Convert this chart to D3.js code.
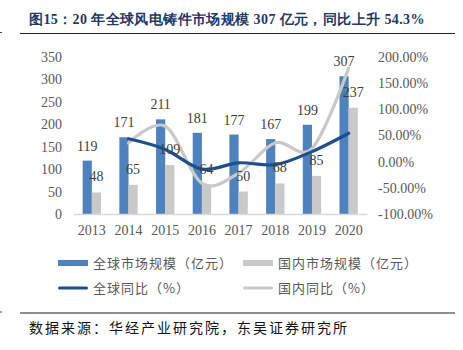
<!DOCTYPE html>
<html>
<head>
<meta charset="utf-8">
<script src="https://cdn.jsdelivr.net/npm/d3@7"></script>
<style>
  body { margin: 0; background: #fff; }
  svg { display: block; }
</style>
</head>
<body>
<svg id="chart"></svg>
<script>
// values
const years = ['2013', '2014', '2015', '2016', '2017', '2018', '2019', '2020'];
const globalSize = [119, 171, 211, 181, 177, 167, 199, 307];
const domesticSize = [48, 65, 109, 64, 50, 68, 85, 237];
const globalYoy = [null, 0.437, 0.234, -0.142, -0.022, -0.056, 0.192, 0.543];
const domesticYoy = [null, 0.354, 0.677, -0.413, -0.219, 0.36, 0.25, 1.788];
const leftTicks = [0, 50, 100, 150, 200, 250, 300, 350];
const rightTicks = [-1, -0.5, 0, 0.5, 1, 1.5, 2];

const W = 463, H = 350;
const serif = '"Liberation Serif", "Times New Roman", serif';
const cjk = '"Noto Sans CJK SC", sans-serif';

const svg = d3.select('#chart').attr('width', W).attr('height', H);

// title + rules
svg.append('text')
    .attr('x', 29).attr('y', 24)
    .attr('font-family', serif).attr('font-size', '14px').attr('font-weight', 'bold')
    .attr('letter-spacing', '0.4px')
    .attr('fill', '#1F3864')
    .text('图15：20 年全球风电铸件市场规模 307 亿元，同比上升 54.3%');
[33.5, 313].forEach(y => {
    svg.append('line').attr('x1', 20).attr('x2', 455).attr('y1', y).attr('y2', y)
        .attr('stroke', '#222').attr('stroke-width', 1.2);
    svg.append('line').attr('x1', 0).attr('x2', 2).attr('y1', y - 1).attr('y2', y - 1)
        .attr('stroke', '#444').attr('stroke-width', 1);
});
svg.append('text')
    .attr('x', 29).attr('y', 333)
    .attr('font-family', cjk).attr('font-size', '14px').attr('letter-spacing', '2px')
    .attr('fill', '#111')
    .text('数据来源：华经产业研究院，东吴证券研究所');

// scales
const x = d3.scaleBand().domain(years).range([73.5, 367])
    .paddingInner(0.5).paddingOuter(0.25);
const yL = d3.scaleLinear().domain([0, 350]).range([214, 57]);
const yR = d3.scaleLinear().domain([-1, 2]).range([214, 57]);
const bw = x.bandwidth() / 2;

const chart = svg.append('g');

// axes
const styleAxis = g => {
    g.selectAll('text').attr('font-family', serif).attr('font-size', '14px').attr('fill', '#595959');
};
chart.append('g')
    .attr('transform', 'translate(62,0)')
    .call(d3.axisLeft(yL).tickValues(leftTicks).tickSize(0).tickPadding(0))
    .call(g => g.select('.domain').remove())
    .call(styleAxis);
chart.append('g')
    .attr('transform', 'translate(378,0)')
    .call(d3.axisRight(yR).tickValues(rightTicks).tickSize(0).tickPadding(0)
        .tickFormat(d => d3.format('.2%')(d).replace('−', '-')))
    .call(g => g.select('.domain').remove())
    .call(styleAxis);

// bars
chart.selectAll('.bar-g').data(years).enter().append('rect')
    .attr('class', 'bar-g')
    .attr('x', d => x(d)).attr('width', bw)
    .attr('y', (d, i) => yL(globalSize[i]))
    .attr('height', (d, i) => yL(0) - yL(globalSize[i]))
    .attr('fill', '#4F81BD');
chart.selectAll('.bar-d').data(years).enter().append('rect')
    .attr('class', 'bar-d')
    .attr('x', d => x(d) + bw).attr('width', bw)
    .attr('y', (d, i) => yL(domesticSize[i]))
    .attr('height', (d, i) => yL(0) - yL(domesticSize[i]))
    .attr('fill', '#C9C9C9');

chart.append('g')
    .attr('transform', 'translate(0,214)')
    .call(d3.axisBottom(x).tickSize(0).tickPadding(11))
    .call(g => g.select('.domain').attr('stroke', '#D9D9D9').attr('stroke-width', 1.5))
    .call(styleAxis);

// smooth lines
const cx = d => x(d) + bw;
const line = d3.line()
    .defined(d => d.v != null)
    .x(d => cx(d.year)).y(d => yR(d.v))
    .curve(d3.curveCardinal.tension(0));
chart.append('path')
    .datum(years.map((y, i) => ({year: y, v: domesticYoy[i]})))
    .attr('d', line).attr('fill', 'none')
    .attr('stroke', '#C9C9C9').attr('stroke-width', 3.2).attr('stroke-linecap', 'round');
chart.append('path')
    .datum(years.map((y, i) => ({year: y, v: globalYoy[i]})))
    .attr('d', line).attr('fill', 'none')
    .attr('stroke', '#1F4E8C').attr('stroke-width', 3.2).attr('stroke-linecap', 'round');

// data labels
chart.selectAll('.lab-g').data(years).enter().append('text')
    .attr('x', d => x(d) + bw / 2)
    .attr('y', (d, i) => yL(globalSize[i]) - 10)
    .attr('text-anchor', 'middle')
    .attr('font-family', serif).attr('font-size', '14px').attr('fill', '#404040')
    .text((d, i) => globalSize[i]);
chart.selectAll('.lab-d').data(years).enter().append('text')
    .attr('x', d => x(d) + bw * 1.5)
    .attr('y', (d, i) => yL(domesticSize[i]) - 11)
    .attr('text-anchor', 'middle')
    .attr('font-family', serif).attr('font-size', '14px').attr('fill', '#404040')
    .text((d, i) => domesticSize[i]);

// legend
const legend = [
    {label: '全球市场规模（亿元）', color: '#4F81BD', type: 'bar', x: 58, y: 263},
    {label: '国内市场规模（亿元）', color: '#C9C9C9', type: 'bar', x: 243, y: 263},
    {label: '全球同比（%）', color: '#1F4E8C', type: 'line', x: 58, y: 288},
    {label: '国内同比（%）', color: '#C9C9C9', type: 'line', x: 243, y: 288}
];
const lg = svg.append('g').selectAll('g').data(legend).enter().append('g')
    .attr('transform', d => `translate(${d.x},${d.y})`);
lg.append('rect')
    .attr('x', 0).attr('width', 30)
    .attr('y', d => d.type === 'bar' ? -3 : -1.5)
    .attr('height', d => d.type === 'bar' ? 6 : 3)
    .attr('rx', d => d.type === 'bar' ? 0 : 1.5)
    .attr('fill', d => d.color);
lg.append('text')
    .attr('x', 35).attr('y', 5)
    .attr('font-family', cjk).attr('font-size', '13px').attr('letter-spacing', '1px')
    .attr('fill', '#595959')
    .text(d => d.label);
</script>
</body>
</html>
